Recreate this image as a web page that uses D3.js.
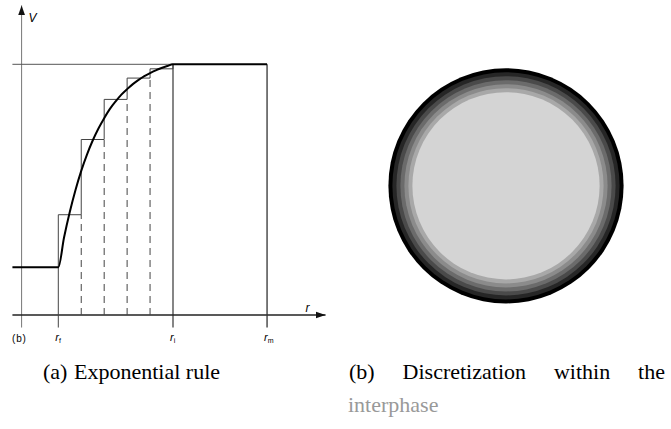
<!DOCTYPE html>
<html>
<head>
<meta charset="utf-8">
<script src="https://cdn.jsdelivr.net/npm/d3@7"></script>
<style>
  html, body { margin: 0; padding: 0; background: #fff; }
  svg { display: block; }
  .serif { font-family: "Liberation Serif", "Times New Roman", Times, "Nimbus Roman", "DejaVu Serif", serif; }
  .sans { font-family: "Liberation Sans", Arial, Helvetica, "DejaVu Sans", sans-serif; }
</style>
</head>
<body>
<svg id="chart" width="671" height="429"></svg>
<script>
// ---------------- data ----------------
// radial positions (r) and potential levels (V), normalised: V at r-axis = 0, V_i = 1
const rStart = 0.6;          // left end of the drawn lines
const rAxis = 0.68;          // position of the vertical V axis
const rF = 1.0;              // r_f
const rI = 2.0;              // r_i
const rM = 2.82;             // r_m
const rEnd = 3.33;           // arrow tip of r axis
const vF = 0.19;             // level inside the fibre
const vI = 1.0;              // level in the matrix
const vTop = 1.235;          // arrow tip of V axis
const vBelow = -0.05;        // ticks below the r axis

// discretisation boundaries and step levels
const stepBounds = [1.0, 1.2, 1.4, 1.6, 1.8, 2.0];
const stepLevels = [0.40, 0.70, 0.86, 0.945, 0.982];

// exponential rule curve
const curveR = [1.00, 1.05, 1.10, 1.15, 1.20, 1.25, 1.30, 1.35, 1.40, 1.45, 1.50,
                1.55, 1.60, 1.65, 1.70, 1.75, 1.80, 1.85, 1.90, 1.95, 2.00];
const curveV = [0.190, 0.309, 0.411, 0.499, 0.575, 0.640, 0.696, 0.744, 0.785, 0.822, 0.852,
                0.879, 0.901, 0.921, 0.938, 0.953, 0.965, 0.976, 0.985, 0.993, 1.000];

// axis labels
const tickLabels = [{r: rF, s: "f"}, {r: rI, s: "i"}, {r: rM, s: "m"}];

// ring discretisation (panel b): outer radii (fraction of outer radius), colours
const ringRadii = [1.0, 0.966, 0.932, 0.898, 0.864, 0.830, 0.796];
const ringColors = ["#000000", "#262626", "#4a4a4a", "#6b6b6b", "#8b8b8b", "#a8a8a8", "#d4d4d4"];

// captions
const captionA = ["(a)", "Exponential rule"];
const captionB = ["(b)", "Discretization", "within", "the"];
const captionB2 = "interphase";

// ---------------- drawing ----------------
const svg = d3.select("#chart");
const x = d3.scaleLinear().domain([rF, rI]).range([58.3, 173]);
const y = d3.scaleLinear().domain([0, vI]).range([315, 64.3]);

const g = svg.append("g");
const thin = "#444";

const defs = svg.append("defs");
defs.append("marker").attr("id", "arr").attr("viewBox", "0 0 10 10")
  .attr("refX", 10).attr("refY", 5).attr("markerWidth", 10).attr("markerHeight", 10)
  .attr("markerUnits", "userSpaceOnUse").attr("orient", "auto")
  .append("path").attr("d", "M0,1.5 L10,5 L0,8.5 Z").attr("fill", "#111");

// V axis
g.append("line").attr("x1", x(rAxis)).attr("x2", x(rAxis))
  .attr("y1", y(vBelow)).attr("y2", y(vTop))
  .attr("stroke", "#777").attr("stroke-width", 1).attr("marker-end", "url(#arr)");
// r axis
g.append("line").attr("x1", x(rStart)).attr("x2", x(rEnd))
  .attr("y1", y(0)).attr("y2", y(0))
  .attr("stroke", "#222").attr("stroke-width", 1.3).attr("marker-end", "url(#arr)");

// top thin line (V_i level)
g.append("line").attr("x1", x(rStart)).attr("x2", x(rI))
  .attr("y1", y(vI)).attr("y2", y(vI))
  .attr("stroke", "#555").attr("stroke-width", 1);

// vertical lines at r_f, r_i, r_m
g.append("line").attr("x1", x(rF)).attr("x2", x(rF))
  .attr("y1", y(vBelow)).attr("y2", y(stepLevels[0]))
  .attr("stroke", thin).attr("stroke-width", 1);
g.append("line").attr("x1", x(rI)).attr("x2", x(rI))
  .attr("y1", y(vBelow)).attr("y2", y(vI))
  .attr("stroke", "#222").attr("stroke-width", 1.1);
g.append("line").attr("x1", x(rM)).attr("x2", x(rM))
  .attr("y1", y(vBelow)).attr("y2", y(vI))
  .attr("stroke", "#333").attr("stroke-width", 1.3);

// dashed interior boundaries
const inner = stepBounds.slice(1, -1);
g.selectAll("line.dash").data(inner).join("line").attr("class", "dash")
  .attr("x1", d => x(d)).attr("x2", d => x(d))
  .attr("y1", y(0)).attr("y2", (d, i) => y(stepLevels[i]))
  .attr("stroke", thin).attr("stroke-width", 1).attr("stroke-dasharray", "7,5");

// step outline
const stepPts = [];
stepLevels.forEach((v, i) => {
  stepPts.push([stepBounds[i], v]);
  stepPts.push([stepBounds[i + 1], v]);
});
stepPts.push([rI, vI]);
g.append("path").datum(stepPts)
  .attr("d", d3.line().x(d => x(d[0])).y(d => y(d[1])))
  .attr("fill", "none").attr("stroke", thin).attr("stroke-width", 1);

// thick potential profile
const profile = [[rStart, vF]].concat(curveR.map((r, i) => [r, curveV[i]])).concat([[rM, vI]]);
g.append("path").datum(profile)
  .attr("d", d3.line().x(d => x(d[0])).y(d => y(d[1])).curve(d3.curveMonotoneX))
  .attr("fill", "none").attr("stroke", "#000").attr("stroke-width", 2);

// labels
g.append("text").attr("class", "sans").attr("x", x(rAxis) + 7).attr("y", 22)
  .attr("font-style", "italic").attr("font-size", 12).text("V");
g.append("text").attr("class", "sans").attr("x", x(rEnd) - 20).attr("y", 312)
  .attr("font-style", "italic").attr("font-size", 12).text("r");
g.append("text").attr("class", "sans").attr("x", 12).attr("y", 342)
  .attr("font-size", 10).attr("letter-spacing", 0.8).text("(b)");
tickLabels.forEach(t => {
  const tx = g.append("text").attr("class", "sans").attr("x", x(t.r) - 3).attr("y", 341)
    .attr("font-size", 11);
  tx.append("tspan").attr("font-style", "italic").text("r");
  tx.append("tspan").attr("font-size", 7).attr("dy", 2).text(t.s);
});

// panel b: rings
const cx = 506, cy = 185.8;
const rad = d3.scaleLinear().domain([0, 1]).range([0, 117.6]);
svg.append("g").selectAll("circle").data(ringRadii).join("circle")
  .attr("cx", cx).attr("cy", cy).attr("r", d => rad(d))
  .attr("fill", (d, i) => ringColors[i]);

// captions
const capA = svg.append("g").attr("class", "serif").attr("font-size", 22).attr("fill", "#000");
capA.append("text").attr("x", 43).attr("y", 379).text(captionA[0]);
capA.append("text").attr("x", 74).attr("y", 379).text(captionA[1]);

// justified first line of caption (b), from x=349 to x=665
const capB = svg.append("g").attr("class", "serif").attr("font-size", 22).attr("fill", "#000");
const words = captionB.map(w => capB.append("text").attr("y", 379).text(w));
const widths = words.map(t => t.node().getComputedTextLength());
const left = 349, right = 665;
const gap = (right - left - d3.sum(widths)) / (words.length - 1);
let cur = left;
words.forEach((t, i) => { t.attr("x", cur); cur += widths[i] + gap; });

svg.append("text").attr("class", "serif").attr("x", 348).attr("y", 412)
  .attr("font-size", 22).attr("fill", "#999").text(captionB2);
</script>
</body>
</html>
